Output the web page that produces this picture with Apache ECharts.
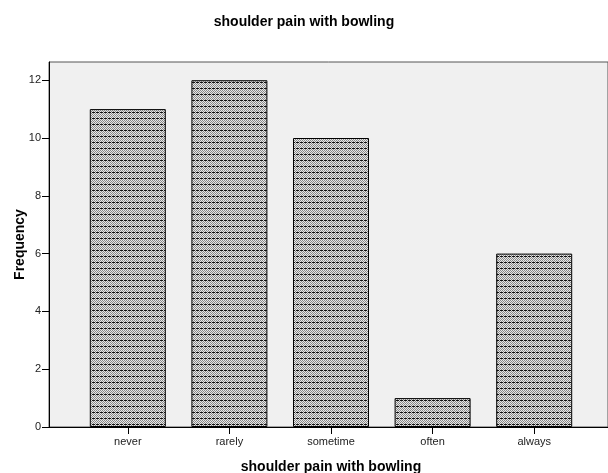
<!DOCTYPE html>
<html>
<head>
<meta charset="utf-8">
<script src="https://cdn.jsdelivr.net/npm/echarts@6/dist/echarts.min.js"></script>
<style>html,body{margin:0;padding:0;background:#fff}#c{width:608px;height:473px}</style>
</head>
<body>
<div id="c"></div>
<script>
var categories = ['never', 'rarely', 'sometime', 'often', 'always'];
var frequency = [11, 12, 10, 1, 6];
var yTicks = [0, 2, 4, 6, 8, 10, 12];
var chartTitle = 'shoulder pain with bowling';
var xName = 'shoulder pain with bowling';
var yName = 'Frequency';

function makePattern() {
  var c = document.createElement('canvas');
  c.width = 8; c.height = 6;
  var ctx = c.getContext('2d');
  for (var y = 0; y < 6; y++) {
    for (var x = 0; x < 8; x++) {
      var col;
      if (y === 4) {
        col = (x % 4 === 3) ? '#d8d8d8' : '#111111';
      } else {
        col = ((x + y) % 2 === 0) ? '#888888' : '#e8e8e8';
      }
      ctx.fillStyle = col;
      ctx.fillRect(x, y, 1, 1);
    }
  }
  return c;
}

var chart = echarts.init(document.getElementById('c'), null, {renderer: 'canvas'});
var font = 'Liberation Sans, Arial, sans-serif';
chart.setOption({
  animation: false,
  title: {
    text: chartTitle, left: 'center', top: 10,
    textStyle: {fontFamily: font, fontSize: 14, fontWeight: 'bold', color: '#000'}
  },
  grid: [
    {left: 49, right: 0, top: 62, bottom: 46, show: true, backgroundColor: '#f0f0f0', borderColor: '#555', borderWidth: 1, outerBoundsMode: 'none', containLabel: false},
    {left: 77, right: 23, top: 62, bottom: 46, outerBoundsMode: 'none', containLabel: false}
  ],
  xAxis: [
    {gridIndex: 0, type: 'value', min: 0, max: 1, axisLine: {show: true, onZero: false, lineStyle: {color: '#000', width: 1}},
      axisTick: {show: false}, axisLabel: {show: false}, splitLine: {show: false},
      name: xName, nameLocation: 'middle', nameGap: 33, nameMoveOverlap: false,
      nameTextStyle: {fontFamily: font, fontSize: 14, fontWeight: 'bold', color: '#000', padding: [0, 0, 0, 5]}},
    {gridIndex: 1, type: 'category', data: categories, boundaryGap: true,
      axisLine: {show: false}, axisTick: {show: true, alignWithLabel: true, length: 7, lineStyle: {color: '#000'}},
      axisLabel: {fontFamily: font, fontSize: 11, color: '#222', margin: 9}}
  ],
  yAxis: [
    {gridIndex: 0, type: 'value', min: 0, max: 12.63,
      axisLine: {show: true, lineStyle: {color: '#000'}},
      axisTick: {show: true, length: 7, customValues: yTicks, lineStyle: {color: '#000'}},
      axisLabel: {fontFamily: font, fontSize: 11, color: '#222', margin: 8, customValues: yTicks},
      splitLine: {show: false},
      name: yName, nameLocation: 'middle', nameGap: 22, nameMoveOverlap: false,
      nameTextStyle: {fontFamily: font, fontSize: 14, fontWeight: 'bold', color: '#000'}},
    {gridIndex: 1, type: 'value', min: 0, max: 12.63, show: false, splitLine: {show: false}}
  ],
  series: [{
    type: 'bar', xAxisIndex: 1, yAxisIndex: 1, data: frequency, barWidth: 76,
    itemStyle: {color: {image: makePattern(), repeat: 'repeat'}, borderColor: '#000', borderWidth: 1}
  }]
});
</script>
</body>
</html>
